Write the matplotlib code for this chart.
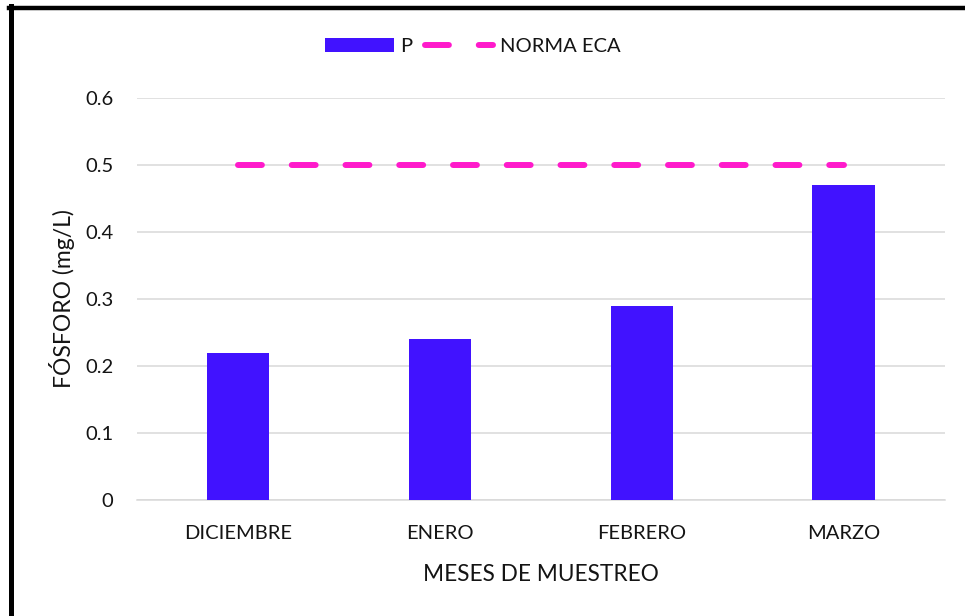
import matplotlib.pyplot as plt
from matplotlib.lines import Line2D

meses = ["DICIEMBRE", "ENERO", "FEBRERO", "MARZO"]
fosforo = [0.22, 0.24, 0.29, 0.47]
norma_eca = [0.5, 0.5, 0.5, 0.5]
y_ticks = [0, 0.1, 0.2, 0.3, 0.4, 0.5, 0.6]
y_tick_labels = ["0", "0.1", "0.2", "0.3", "0.4", "0.5", "0.6"]

plt.rcParams['font.family'] = ['Lato', 'DejaVu Sans']

bar_color = "#4112FF"
line_color = "#FF1ACB"
text_color = "#141414"

fig = plt.figure(figsize=(9.65, 6.16), dpi=100)
ax = fig.add_axes([0.142, 0.1883, 0.837, 0.6527])

x = list(range(len(meses)))
bars = ax.bar(x, fosforo, width=0.31, color=bar_color, zorder=3, label="P")
line, = ax.plot(x, norma_eca, color=line_color, linewidth=4.3,
                solid_capstyle="round", dash_capstyle="round",
                zorder=4, label="NORMA ECA")
line.set_dashes([4, 5])

ax.set_xlim(-0.5, len(meses) - 0.5)
ax.set_ylim(0, 0.6)
ax.set_yticks(y_ticks)
ax.set_yticklabels(y_tick_labels)
ax.set_xticks(x)
ax.set_xticklabels(meses)
ax.tick_params(axis="both", length=0, labelsize=14.5, colors=text_color)
ax.tick_params(axis="y", pad=17)
ax.tick_params(axis="x", pad=18)

ax.grid(axis="y", color="#D9D9D9", linewidth=1.1, zorder=0)
ax.set_axisbelow(True)
for side in ["top", "right", "left"]:
    ax.spines[side].set_visible(False)
ax.spines["bottom"].set_color("#D9D9D9")
ax.spines["bottom"].set_linewidth(1.1)

ax.set_xlabel("MESES DE MUESTREO", fontsize=16.3, color=text_color, labelpad=16)
ax.set_ylabel("FÓSFORO (mg/L)", fontsize=16.5, color=text_color, labelpad=7)

leg = ax.legend(handles=[bars, line], labels=["P", "NORMA ECA"],
                loc="center", bbox_to_anchor=(0.416, 1.128), ncol=2,
                frameon=False, fontsize=14.5, handlelength=3.4,
                columnspacing=0.6, handletextpad=0.35)
for t in leg.get_texts():
    t.set_color(text_color)

# frame lines along the top and left edges of the figure
fig.add_artist(Line2D([0.009, 1.0], [0.9875, 0.9875], color="black",
                      linewidth=3.2, transform=fig.transFigure))
fig.add_artist(Line2D([0.011, 0.011], [0.0, 0.99], color="black",
                      linewidth=3.6, transform=fig.transFigure))

fig.savefig("out.png", dpi=100)
